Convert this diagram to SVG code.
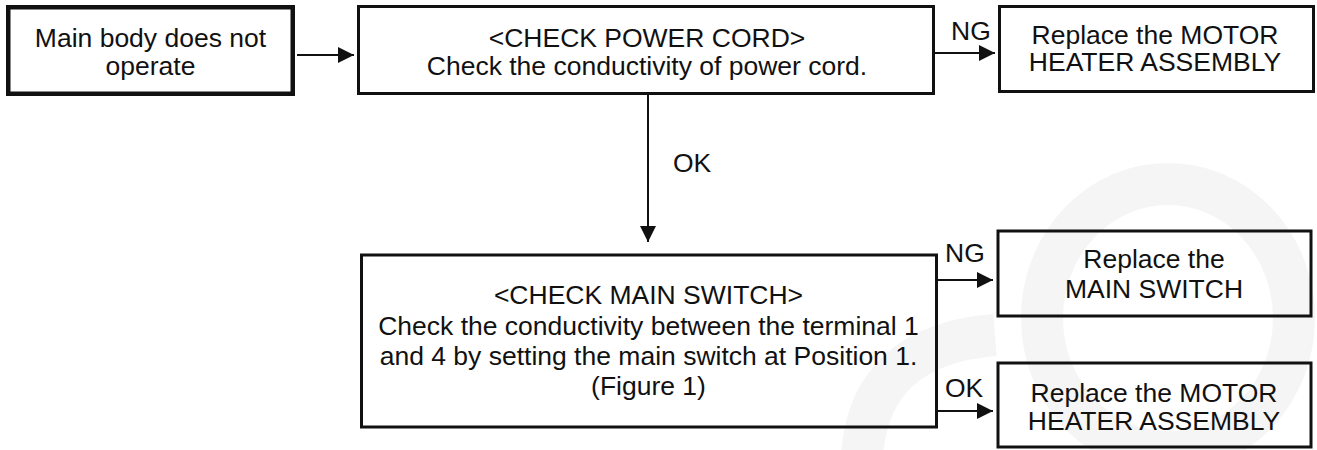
<svg xmlns="http://www.w3.org/2000/svg" width="1317" height="450" viewBox="0 0 1317 450">
<style>
  .box { fill: none; stroke: #111; stroke-width: 3; }
  .thick { stroke-width: 4.5; }
  .t { font-family: "Liberation Sans", Arial, sans-serif; font-size: 26.5px; fill: #111; text-anchor: middle; }
  .lbl { font-family: "Liberation Sans", Arial, sans-serif; font-size: 26.5px; fill: #111; }
  .conn { stroke: #111; stroke-width: 2; fill: none; marker-end: url(#arr); }
  .wm { fill: none; stroke: #f5f5f5; stroke-width: 42; }
</style>
<defs>
  <marker id="arr" markerUnits="userSpaceOnUse" markerWidth="17" markerHeight="16" refX="16" refY="8" orient="auto">
    <path d="M0,0 L16,8 L0,16 z" fill="#111"/>
  </marker>
</defs>
<rect width="1317" height="450" fill="#fff"/>
<g id="watermark">
  <ellipse class="wm" cx="1168" cy="318" rx="126" ry="134"/>
  <path class="wm" d="M862,455 Q870,345 995,335"/>
</g>
<g id="connectors">
  <line class="conn" x1="297" y1="55" x2="354" y2="55"/>
  <line class="conn" x1="935" y1="53" x2="995" y2="53"/>
  <line class="conn" x1="648" y1="95" x2="648" y2="242"/>
  <line class="conn" x1="938" y1="280" x2="993" y2="280"/>
  <line class="conn" x1="938" y1="411" x2="993" y2="411"/>
  <text class="lbl" x="951" y="40">NG</text>
  <text class="lbl" x="673" y="172">OK</text>
  <text class="lbl" x="945" y="262">NG</text>
  <text class="lbl" x="945" y="397">OK</text>
</g>
<g id="start">
  <rect class="box thick" x="8.25" y="7.25" width="284.5" height="86.5"/>
  <text class="t" x="150.5" y="46.5">Main body does not</text>
  <text class="t" x="150.5" y="75">operate</text>
</g>
<g id="check-power-cord">
  <rect class="box" x="358.5" y="6.5" width="575" height="87"/>
  <text class="t" x="647" y="46.5">&lt;CHECK POWER CORD&gt;</text>
  <text class="t" x="647" y="75">Check the conductivity of power cord.</text>
</g>
<g id="replace-motor-1">
  <rect class="box" x="999.5" y="6.5" width="314" height="85"/>
  <text class="t" x="1155" y="43.5">Replace the MOTOR</text>
  <text class="t" x="1155" y="71">HEATER ASSEMBLY</text>
</g>
<g id="check-main-switch">
  <rect class="box" x="361.5" y="255" width="575" height="172"/>
  <text class="t" x="648.5" y="304">&lt;CHECK MAIN SWITCH&gt;</text>
  <text class="t" x="648.5" y="334.5">Check the conductivity between the terminal 1</text>
  <text class="t" x="648.5" y="364.5">and 4 by setting the main switch at Position 1.</text>
  <text class="t" x="648.5" y="394.5">(Figure 1)</text>
</g>
<g id="replace-main-switch">
  <rect class="box" x="998" y="231" width="313" height="85"/>
  <text class="t" x="1154" y="268">Replace the</text>
  <text class="t" x="1154" y="298">MAIN SWITCH</text>
</g>
<g id="replace-motor-2">
  <rect class="box" x="998" y="363" width="313" height="84"/>
  <text class="t" x="1154" y="402">Replace the MOTOR</text>
  <text class="t" x="1154" y="430">HEATER ASSEMBLY</text>
</g>
</svg>
